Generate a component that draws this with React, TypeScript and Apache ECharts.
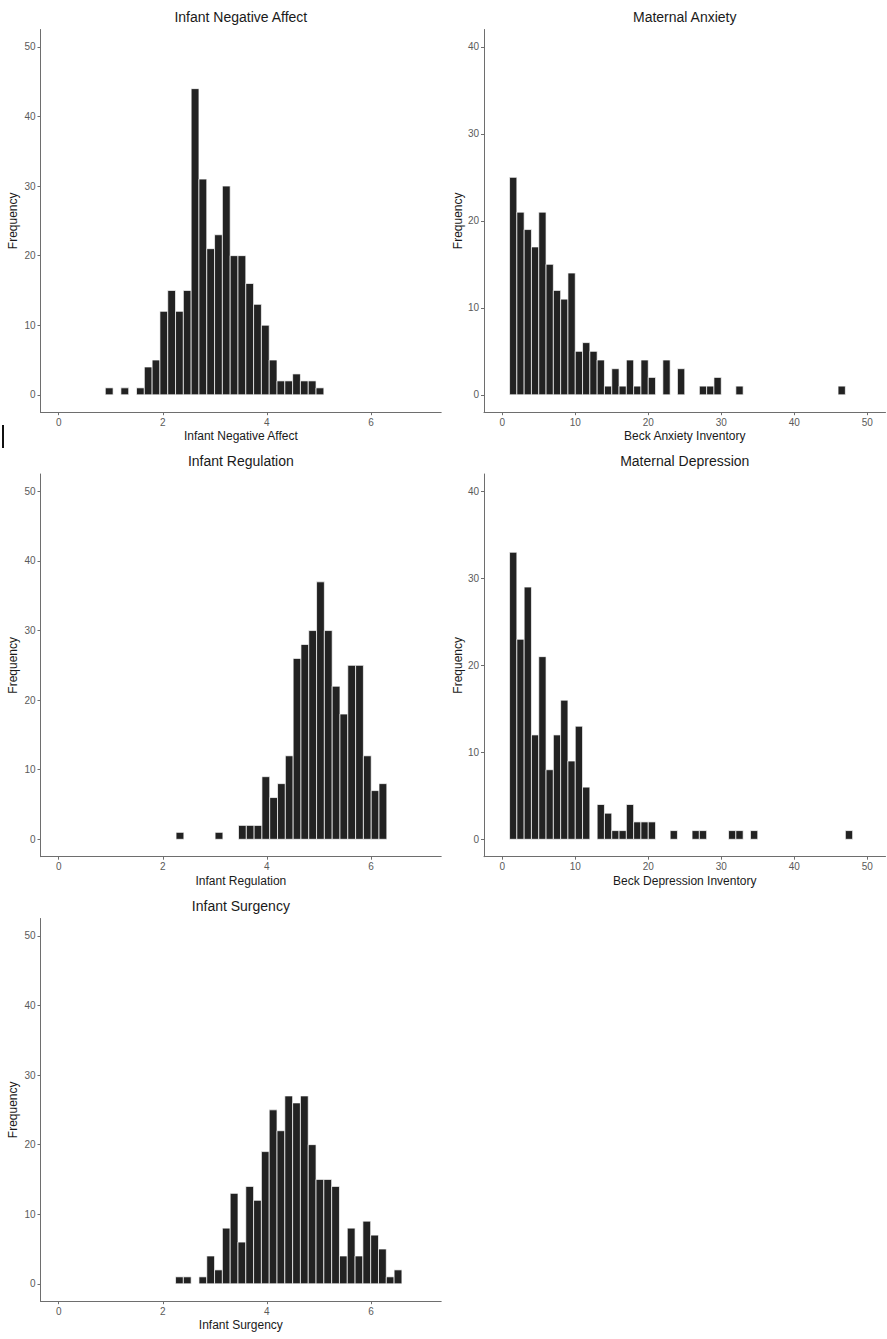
import React, { useEffect, useRef } from "react";
import * as echarts from "echarts";

// ---- Data ----
const INFANT_BIN_WIDTH = 0.15;
const MATERNAL_BIN_WIDTH = 1;

const infantXTicks = [0, 2, 4, 6];
const infantYTicks = [0, 10, 20, 30, 40, 50];
const maternalXTicks = [0, 10, 20, 30, 40, 50];
const maternalYTicks = [0, 10, 20, 30, 40];

// Infant Negative Affect (bin centers / counts)
const negAffectCenters = [
  0.97, 1.27, 1.57, 1.72, 1.87, 2.02, 2.17, 2.32, 2.47, 2.62, 2.77, 2.92, 3.07,
  3.22, 3.37, 3.52, 3.67, 3.82, 3.97, 4.12, 4.27, 4.42, 4.57, 4.72, 4.87, 5.02,
];
const negAffectCounts = [
  1, 1, 1, 4, 5, 12, 15, 12, 15, 44, 31, 21, 23, 30, 20, 20, 16, 13, 10, 5, 2, 2,
  3, 2, 2, 1,
];

// Maternal Anxiety (Beck Anxiety Inventory) bin lower edges / counts
const anxietyStarts = [
  1, 2, 3, 4, 5, 6, 7, 8, 9, 10, 11, 12, 13, 14, 15, 16, 17, 18, 19, 20, 22, 24,
  27, 28, 29, 32, 46,
];
const anxietyCounts = [
  25, 21, 19, 17, 21, 15, 12, 11, 14, 5, 6, 5, 4, 1, 3, 1, 4, 1, 4, 2, 4, 3, 1, 1,
  2, 1, 1,
];

// Infant Regulation
const regulationCenters = [
  2.33, 3.08, 3.53, 3.68, 3.83, 3.98, 4.13, 4.28, 4.43, 4.58, 4.73, 4.88, 5.03,
  5.18, 5.33, 5.48, 5.63, 5.78, 5.93, 6.08, 6.23,
];
const regulationCounts = [
  1, 1, 2, 2, 2, 9, 6, 8, 12, 26, 28, 30, 37, 30, 22, 18, 25, 25, 12, 7, 8,
];

// Maternal Depression (Beck Depression Inventory)
const depressionStarts = [
  1, 2, 3, 4, 5, 6, 7, 8, 9, 10, 11, 13, 14, 15, 16, 17, 18, 19, 20, 23, 26, 27,
  31, 32, 34, 47,
];
const depressionCounts = [
  33, 23, 29, 12, 21, 8, 12, 16, 9, 13, 6, 4, 3, 1, 1, 4, 2, 2, 2, 1, 1, 1, 1, 1,
  1, 1,
];

// Infant Surgency
const surgencyCenters = [
  2.32, 2.47, 2.77, 2.92, 3.07, 3.22, 3.37, 3.52, 3.67, 3.82, 3.97, 4.12, 4.27,
  4.42, 4.57, 4.72, 4.87, 5.02, 5.17, 5.32, 5.47, 5.62, 5.77, 5.92, 6.07, 6.22,
  6.37, 6.52,
];
const surgencyCounts = [
  1, 1, 1, 4, 2, 8, 13, 6, 14, 12, 19, 25, 22, 27, 26, 27, 20, 15, 15, 14, 4, 8,
  4, 9, 7, 5, 1, 2,
];

const FONT = "'Liberation Sans', Arial, Helvetica, sans-serif";
const AXIS_COLOR = "#6e6e6e";
const TICK_TEXT = "#5a5a5a";
const TEXT = "#1a1a1a";
const BAR_FILL = "#222222";

type Panel = {
  title: string;
  xName: string;
  bins: number[][];
  xMin: number;
  xMax: number;
  xTicks: number[];
  yMin: number;
  yMax: number;
  yTicks: number[];
  left: number;
  top: number;
  width: number;
  height: number;
  yNameGap: number;
};

function fromCenters(centers: number[], counts: number[], w: number) {
  return centers.map((c, i) => [c - w / 2, c + w / 2, counts[i]]);
}
function fromStarts(starts: number[], counts: number[], w: number) {
  return starts.map((s, i) => [s, s + w, counts[i]]);
}

const LEFT_COL = 40.5;
const LEFT_W = 400.7;
const RIGHT_COL = 484;
const RIGHT_W = 401.5;
const ROW_TOPS = [29.5, 474, 918.5];
const ROW_H = 382.7;

const panels: Panel[] = [
  {
    title: "Infant Negative Affect",
    xName: "Infant Negative Affect",
    bins: fromCenters(negAffectCenters, negAffectCounts, INFANT_BIN_WIDTH),
    xMin: -0.35, xMax: 7.35, xTicks: infantXTicks,
    yMin: -2.5, yMax: 52.5, yTicks: infantYTicks,
    left: LEFT_COL, top: ROW_TOPS[0], width: LEFT_W, height: ROW_H, yNameGap: 22,
  },
  {
    title: "Maternal Anxiety",
    xName: "Beck Anxiety Inventory",
    bins: fromStarts(anxietyStarts, anxietyCounts, MATERNAL_BIN_WIDTH),
    xMin: -2.5, xMax: 52.5, xTicks: maternalXTicks,
    yMin: -2, yMax: 42, yTicks: maternalYTicks,
    left: RIGHT_COL, top: ROW_TOPS[0], width: RIGHT_W, height: ROW_H, yNameGap: 20.5,
  },
  {
    title: "Infant Regulation",
    xName: "Infant Regulation",
    bins: fromCenters(regulationCenters, regulationCounts, INFANT_BIN_WIDTH),
    xMin: -0.35, xMax: 7.35, xTicks: infantXTicks,
    yMin: -2.5, yMax: 52.5, yTicks: infantYTicks,
    left: LEFT_COL, top: ROW_TOPS[1], width: LEFT_W, height: ROW_H, yNameGap: 22,
  },
  {
    title: "Maternal Depression",
    xName: "Beck Depression Inventory",
    bins: fromStarts(depressionStarts, depressionCounts, MATERNAL_BIN_WIDTH),
    xMin: -2.5, xMax: 52.5, xTicks: maternalXTicks,
    yMin: -2, yMax: 42, yTicks: maternalYTicks,
    left: RIGHT_COL, top: ROW_TOPS[1], width: RIGHT_W, height: ROW_H, yNameGap: 20.5,
  },
  {
    title: "Infant Surgency",
    xName: "Infant Surgency",
    bins: fromCenters(surgencyCenters, surgencyCounts, INFANT_BIN_WIDTH),
    xMin: -0.35, xMax: 7.35, xTicks: infantXTicks,
    yMin: -2.5, yMax: 52.5, yTicks: infantYTicks,
    left: LEFT_COL, top: ROW_TOPS[2], width: LEFT_W, height: ROW_H, yNameGap: 22,
  },
];

export default function App() {
  const ref = useRef<HTMLDivElement>(null);

  useEffect(() => {
    document.body.style.margin = "0";
    const chart = echarts.init(ref.current as HTMLDivElement, null, {
      renderer: "svg",
    });

    const grid = panels.map((p) => ({
      left: p.left,
      top: p.top,
      width: p.width,
      height: p.height,
      containLabel: false,
    }));

    const xAxis = panels.map((p, i) => ({
      type: "value",
      gridIndex: i,
      min: p.xMin,
      max: p.xMax,
      name: p.xName,
      nameLocation: "middle",
      nameGap: 18,
      nameTextStyle: { fontFamily: FONT, fontSize: 12, color: TEXT },
      splitLine: { show: false },
      axisLine: { show: true, onZero: false, lineStyle: { color: AXIS_COLOR, width: 1 } },
      axisTick: {
        show: true,
        length: 3,
        customValues: p.xTicks,
        lineStyle: { color: AXIS_COLOR, width: 1 },
      },
      axisLabel: {
        customValues: p.xTicks,
        margin: 5,
        fontFamily: FONT,
        fontSize: 10,
        color: TICK_TEXT,
      },
    }));

    const yAxis = panels.map((p, i) => ({
      type: "value",
      gridIndex: i,
      min: p.yMin,
      max: p.yMax,
      name: "Frequency",
      nameLocation: "middle",
      nameGap: p.yNameGap,
      nameTextStyle: { fontFamily: FONT, fontSize: 12, color: TEXT },
      splitLine: { show: false },
      axisLine: { show: true, onZero: false, lineStyle: { color: AXIS_COLOR, width: 1 } },
      axisTick: {
        show: true,
        length: 3,
        customValues: p.yTicks,
        lineStyle: { color: AXIS_COLOR, width: 1 },
      },
      axisLabel: {
        customValues: p.yTicks,
        margin: 5,
        fontFamily: FONT,
        fontSize: 10,
        color: TICK_TEXT,
      },
    }));

    const series = panels.map((p, i) => ({
      type: "custom",
      xAxisIndex: i,
      yAxisIndex: i,
      encode: { x: [0, 1], y: 2 },
      data: p.bins,
      renderItem: (_params: any, api: any) => {
        const p0 = api.coord([api.value(0), api.value(2)]);
        const p1 = api.coord([api.value(1), 0]);
        return {
          type: "rect",
          shape: {
            x: p0[0],
            y: p0[1],
            width: p1[0] - p0[0],
            height: p1[1] - p0[1],
          },
          style: { fill: BAR_FILL, stroke: "#ffffff", lineWidth: 0.7 },
        };
      },
    }));

    const graphic: any[] = panels.map((p) => ({
      type: "text",
      x: p.left + p.width / 2,
      y: p.top - 13,
      style: {
        text: p.title,
        fontFamily: FONT,
        fontSize: 14,
        fill: TEXT,
        align: "center",
        verticalAlign: "middle",
      },
    }));
    // small black mark at the left edge seen in the reference
    graphic.push({
      type: "rect",
      shape: { x: 2, y: 425, width: 2, height: 23 },
      style: { fill: "#111111" },
    });

    chart.setOption({
      animation: false,
      backgroundColor: "#ffffff",
      grid,
      xAxis,
      yAxis,
      series,
      graphic,
    } as any);

    return () => chart.dispose();
  }, []);

  return <div ref={ref} style={{ width: 887, height: 1339 }} />;
}
